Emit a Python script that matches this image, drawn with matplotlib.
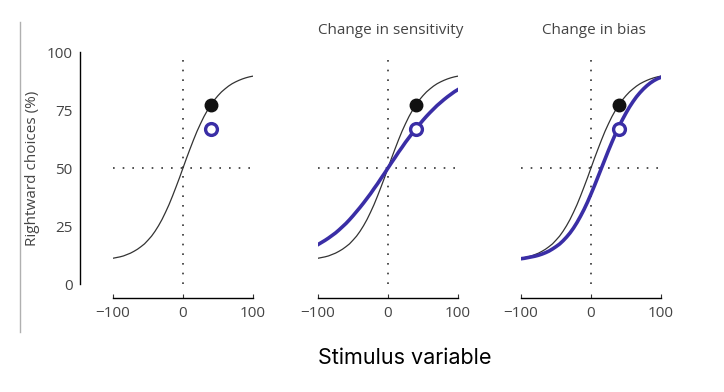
import numpy as np
import matplotlib
matplotlib.use("Agg")
from matplotlib import pyplot as plt

# stimulus values (x) and read-off curve values (% rightward choices)
stim = np.arange(-100, 101, 5)

base_curve = [11.1, 11.4, 11.7, 12.1, 12.7, 13.3, 14.1, 15.0, 16.1, 17.3,
              18.9, 20.6, 22.7, 25.1, 27.8, 30.9, 34.2, 37.9, 41.8, 45.8,
              50.0, 54.2, 58.2, 62.1, 65.8, 69.1, 72.2, 74.9, 77.3, 79.4,
              81.2, 82.8, 84.1, 85.3, 86.3, 87.1, 87.8, 88.4, 88.9, 89.3, 89.6]

sens_curve = [17.0, 17.9, 18.8, 19.8, 20.9, 22.0, 23.3, 24.7, 26.1, 27.7,
              29.4, 31.2, 33.0, 34.9, 36.9, 38.9, 41.1, 43.2, 45.5, 47.7,
              50.0, 52.3, 54.5, 56.8, 58.9, 61.1, 63.1, 65.1, 67.0, 68.8,
              70.6, 72.3, 73.9, 75.4, 76.9, 78.2, 79.5, 80.7, 81.8, 82.9, 83.8]

bias_curve = [10.9, 11.1, 11.4, 11.7, 12.0, 12.4, 12.9, 13.5, 14.2, 15.1,
              16.1, 17.2, 18.6, 20.2, 22.0, 24.1, 26.5, 29.2, 32.1, 35.3,
              38.8, 42.4, 46.2, 50.0, 53.8, 57.6, 61.2, 64.7, 67.9, 70.9,
              73.7, 76.3, 78.6, 80.7, 82.5, 84.1, 85.5, 86.7, 87.7, 88.5, 89.1]

dot_x = 40
dot_before = 77
dot_after = 67

titles = ["", "Change in sensitivity", "Change in bias"]
blue_curves = [None, sens_curve, bias_curve]
xticks = [-100, 0, 100]
yticks = [0, 25, 50, 75, 100]

BLUE = "#3a2ea6"
GREY_TXT = "#444444"

fig = plt.figure(figsize=(7.24, 3.92), dpi=100)

# thin grey rule at the far left
fig.add_artist(plt.Line2D([20/724, 20/724], [1 - 22/392, 1 - 332/392],
                          color="#b0b0b0", lw=1.0))

lefts = [113, 318, 521]
for i, left in enumerate(lefts):
    ax = fig.add_axes([left/724, (392-284)/392, 140/724, 232/392])
    ax.set_xlim(-100, 100)
    ax.set_ylim(0, 100)
    ax.patch.set_visible(False)

    # reference dotted lines
    ax.plot([-100, 100], [50, 50], color="#333333", lw=1.2,
            linestyle=(0, (1, 4.8)))
    ax.plot([0, 0], [0, 98], color="#333333", lw=1.2,
            linestyle=(0, (1, 4.8)))

    ax.plot(stim, base_curve, color="#333333", lw=0.9, zorder=3)
    if blue_curves[i] is not None:
        ax.plot(stim, blue_curves[i], color=BLUE, lw=2.6, zorder=4)

    ax.plot(dot_x, dot_before, "o", color="#111111", ms=9, zorder=5)
    ax.plot(dot_x, dot_after, "o", mfc="white", mec=BLUE, mew=2.4,
            ms=8.5, zorder=6)

    for s in ["top", "right"]:
        ax.spines[s].set_visible(False)
    ax.spines["bottom"].set_position(("outward", 10))
    ax.spines["bottom"].set_linewidth(1.0)
    ax.set_xticks(xticks)
    ax.set_xticklabels(["\u2212100", "0", "100"])
    ax.tick_params(axis="x", direction="in", length=3, pad=6,
                   labelsize=11, labelcolor=GREY_TXT, color="#333333")

    if i == 0:
        ax.spines["left"].set_position(("outward", 24))
        ax.spines["left"].set_linewidth(1.0)
        ax.set_yticks(yticks)
        ax.set_yticks([0, 100], minor=True)
        ax.tick_params(axis="y", which="major", direction="in", length=0,
                       pad=5, labelsize=11, labelcolor=GREY_TXT)
        ax.tick_params(axis="y", which="minor", direction="in", length=3,
                       width=1.0, color="#333333")
    else:
        ax.spines["left"].set_visible(False)
        ax.set_yticks([])

    if titles[i]:
        cx = (left + 70 + 3) / 724
        fig.text(cx, 1 - 30/392, titles[i], ha="center", va="center",
                 fontsize=11, color=GREY_TXT, family="Open Sans")

for lab in fig.axes[0].get_xticklabels() + fig.axes[0].get_yticklabels():
    lab.set_family("Open Sans")
for ax in fig.axes[1:]:
    for lab in ax.get_xticklabels():
        lab.set_family("Open Sans")

fig.text(33/724, 1 - 168/392, "Rightward choices (%)", rotation=90,
         ha="center", va="center", fontsize=11, color=GREY_TXT,
         family="Open Sans")

fig.text(405/724, 1 - 358/392, "Stimulus variable", ha="center",
         va="center", fontsize=15.5, color="black", family="Inter")

fig.savefig("out.png", dpi=100)
